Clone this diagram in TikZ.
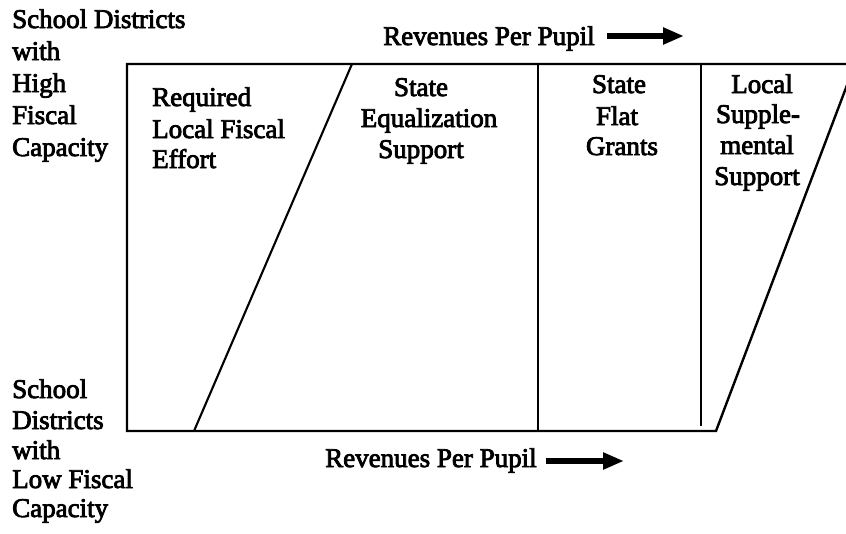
\documentclass[tikz,border=0pt]{standalone}
\usepackage{fontspec}
\newfontfamily\labelfont{Liberation Serif}[FakeBold=3]
\usetikzlibrary{arrows.meta}

\begin{document}
\begin{tikzpicture}[x=1pt,y=-1pt,
  frame/.style={line width=2.4pt, line join=miter},
  divider/.style={line width=2.1pt},
  txt/.style={inner sep=0pt, font=\labelfont\fontsize{27}{31}\selectfont},
  lefttext/.style={txt, anchor=base west},
  midtext/.style={txt, anchor=base},
  bigarrow/.style={line width=6pt, -{Triangle[length=21pt,width=16pt]}}]
\clip (0,0) rectangle (846,533);

% corners of the revenue band
\coordinate (tl) at (127,64);
\coordinate (bl) at (127,431);
\coordinate (tr) at (855,64);
\coordinate (br) at (716,431);
% inner dividers
\coordinate (s1t) at (352,64);
\coordinate (s1b) at (194,431);
\coordinate (v1t) at (538,64);
\coordinate (v1b) at (538,431);
\coordinate (v2t) at (701,64);
\coordinate (v2b) at (701,426);

\draw[frame] (tr) -- (tl) -- (bl) -- (br) -- cycle;
\draw[divider] (s1b) -- (s1t);
\draw[divider] (v1t) -- (v1b);
\draw[divider] (v2t) -- (v2b);

% axis captions
\node[lefttext] (hi1) at (12,28)  {School Districts};
\node[lefttext] (hi2) at (12,60)  {with};
\node[lefttext] (hi3) at (12,92)  {High};
\node[lefttext] (hi4) at (12,124) {Fiscal};
\node[lefttext] (hi5) at (12,156) {Capacity};

\node[lefttext] (lo1) at (12,398) {School};
\node[lefttext] (lo2) at (12,429) {Districts};
\node[lefttext] (lo3) at (12,459) {with};
\node[lefttext] (lo4) at (12,488) {Low Fiscal};
\node[lefttext] (lo5) at (12,517) {Capacity};

\node[lefttext] (revtop) at (383,45)  {Revenues Per Pupil};
\node[lefttext] (revbot) at (325,467) {Revenues Per Pupil};
\coordinate (a1s) at (607,36);
\coordinate (a1e) at (684,36);
\coordinate (a2s) at (546,461);
\coordinate (a2e) at (624,461);
\draw[bigarrow] (a1s) -- (a1e);
\draw[bigarrow] (a2s) -- (a2e);

% band labels
\node[lefttext] (rq1) at (152,106) {Required};
\node[lefttext] (rq2) at (152,138) {Local Fiscal};
\node[lefttext] (rq3) at (152,168) {Effort};

\node[midtext] (eq1) at (421,96)  {State};
\node[midtext] (eq2) at (429,127) {Equalization};
\node[midtext] (eq3) at (421,158) {Support};

\node[midtext] (fg1) at (619,93)  {State};
\node[midtext] (fg2) at (617,125) {Flat};
\node[midtext] (fg3) at (622,155) {Grants};

\node[midtext] (ls1) at (762,93)  {Local};
\node[midtext] (ls2) at (758,123) {Supple-};
\node[midtext] (ls3) at (757,154) {mental};
\node[midtext] (ls4) at (757,185) {Support};
\end{tikzpicture}
\end{document}
